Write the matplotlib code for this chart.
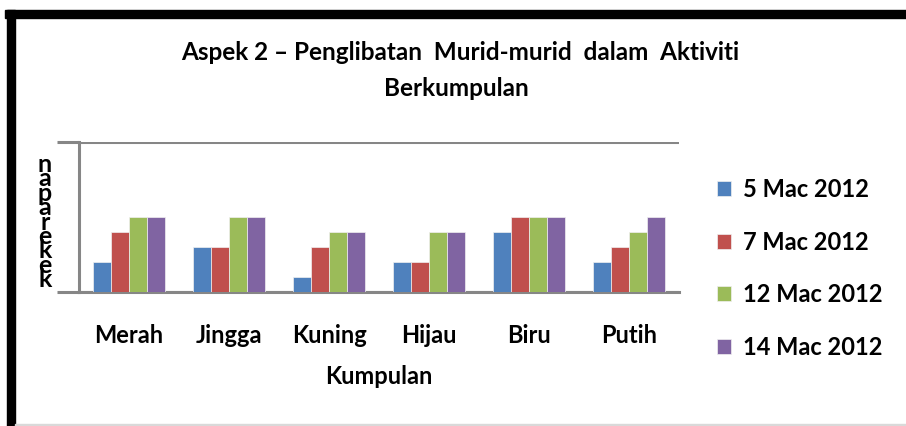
import matplotlib.pyplot as plt
import numpy as np
from matplotlib.patches import Rectangle

plt.rcParams['font.family'] = ['Lato', 'DejaVu Sans']
plt.rcParams['font.weight'] = 'bold'

kumpulan = ["Merah", "Jingga", "Kuning", "Hijau", "Biru", "Putih"]
tarikh = ["5 Mac 2012", "7 Mac 2012", "12 Mac 2012", "14 Mac 2012"]
mac5 = [2, 3, 1, 2, 4, 2]
mac7 = [4, 3, 3, 2, 5, 3]
mac12 = [5, 5, 4, 4, 5, 4]
mac14 = [5, 5, 4, 4, 5, 5]
warna = ["#4F81BD", "#C0504D", "#9BBB59", "#8064A2"]

W, H = 906, 426
fig = plt.figure(figsize=(W / 100, H / 100), dpi=100)
ax = fig.add_axes([79 / W, 1 - 292 / H, 600 / W, 150 / H])

x = np.arange(len(kumpulan))
lebar = 0.18
siri = [mac5, mac7, mac12, mac14]
bars = []
for i, nilai in enumerate(siri):
    b = ax.bar(x + (i - 1.5) * lebar, nilai, lebar, color=warna[i],
               edgecolor="#f0f0f0", linewidth=0.5, zorder=3)
    bars.append(b)

ax.set_xlim(-0.5, len(kumpulan) - 0.5)
ax.set_ylim(0, 10)
ax.set_yticks([0, 10])
ax.yaxis.grid(True, color="#868686", linewidth=2.2)
ax.set_axisbelow(True)
for s in ["top", "right"]:
    ax.spines[s].set_visible(False)
for s in ["left", "bottom"]:
    ax.spines[s].set_color("#868686")
    ax.spines[s].set_linewidth(2.2)
ax.tick_params(axis="y", length=16, width=2.2, color="#868686", labelleft=False)
ax.tick_params(axis="x", length=0, pad=23, labelsize=17)
ax.set_xticks(x)
ax.set_xticklabels(kumpulan, fontweight="bold")
ax.set_xlabel("Kumpulan", fontsize=17, fontweight="bold", labelpad=13)

# label paksi-y yang huruf-hurufnya bertindih
fig.text(45 / W, 1 - 222 / H, "n\na\np\na\nr\ne\nk\ne\nk", ha="center", va="center",
         fontsize=18, fontweight="bold", linespacing=0.55, multialignment="center")

fig.text(460 / W, 1 - 52 / H, "Aspek 2 \u2013 Penglibatan  Murid-murid  dalam  Aktiviti",
         ha="center", va="center", fontsize=17.5, fontweight="bold")
fig.text(456 / W, 1 - 88 / H, "Berkumpulan", ha="center", va="center",
         fontsize=17.5, fontweight="bold")

ax.legend([b[0] for b in bars], tarikh, loc="upper left",
          bbox_to_anchor=(696 / W, 1 - 157 / H), bbox_transform=fig.transFigure,
          frameon=False, fontsize=17, handlelength=0.6, handleheight=0.6,
          handletextpad=0.5, labelspacing=1.25)

# bingkai
fig.add_artist(Rectangle((5 / W, 1 - 18 / H), 1, 8 / H, transform=fig.transFigure,
                         color="black", zorder=10))
fig.add_artist(Rectangle((7 / W, 0), 8 / W, 1 - 10 / H, transform=fig.transFigure,
                         color="black", zorder=10))
fig.add_artist(Rectangle((15 / W, 0), 1, 2 / H, transform=fig.transFigure,
                         color="#d9d9d9", zorder=10))

fig.savefig("out.png", dpi=100)
